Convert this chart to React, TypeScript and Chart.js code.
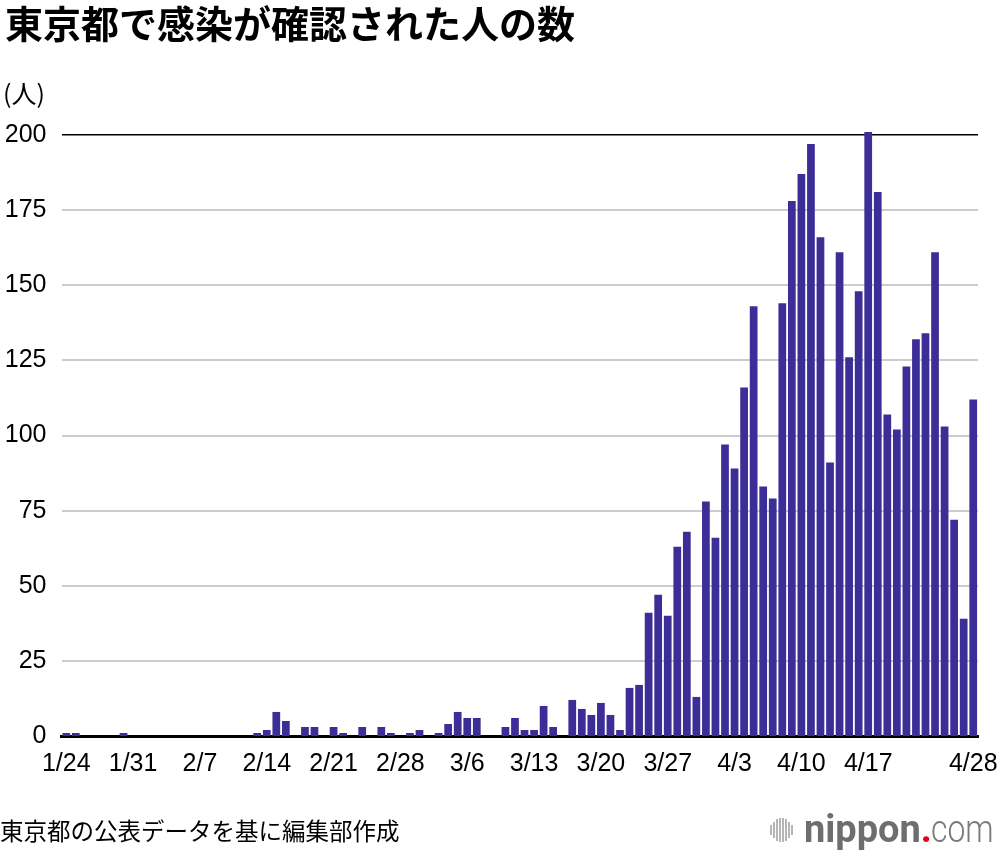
import React, { useEffect, useRef } from "react";
import { Chart, registerables } from "chart.js";

Chart.register(...registerables);

const dates: string[] = [
  "1/24", "1/25", "1/26", "1/27", "1/28", "1/29", "1/30", "1/31",
  "2/1", "2/2", "2/3", "2/4", "2/5", "2/6", "2/7", "2/8", "2/9", "2/10",
  "2/11", "2/12", "2/13", "2/14", "2/15", "2/16", "2/17", "2/18", "2/19", "2/20",
  "2/21", "2/22", "2/23", "2/24", "2/25", "2/26", "2/27", "2/28", "2/29",
  "3/1", "3/2", "3/3", "3/4", "3/5", "3/6", "3/7", "3/8", "3/9", "3/10",
  "3/11", "3/12", "3/13", "3/14", "3/15", "3/16", "3/17", "3/18", "3/19", "3/20",
  "3/21", "3/22", "3/23", "3/24", "3/25", "3/26", "3/27", "3/28", "3/29", "3/30", "3/31",
  "4/1", "4/2", "4/3", "4/4", "4/5", "4/6", "4/7", "4/8", "4/9", "4/10",
  "4/11", "4/12", "4/13", "4/14", "4/15", "4/16", "4/17", "4/18", "4/19", "4/20",
  "4/21", "4/22", "4/23", "4/24", "4/25", "4/26", "4/27", "4/28",
];

const casesJan: number[] = [1, 1, 0, 0, 0, 0, 1, 0];
const casesFeb: number[] = [
  0, 0, 0, 0, 0, 0, 0, 0, 0, 0, 0, 0, 1, 2, 8, 5, 0, 3, 3, 0, 3, 1, 0, 3, 0, 3, 1, 0, 1,
];
const casesMar: number[] = [
  2, 0, 1, 4, 8, 6, 6, 0, 0, 3, 6, 2, 2, 10, 3, 0, 12, 9, 7, 11, 7, 2, 16, 17, 41, 47, 40, 63, 68, 13, 78,
];
const casesApr: number[] = [
  66, 97, 89, 116, 143, 83, 79, 144, 178, 187, 197, 166, 91, 161, 126, 148, 201, 181, 107, 102,
  123, 132, 134, 161, 103, 72, 39, 112,
];
const cases: number[] = [...casesJan, ...casesFeb, ...casesMar, ...casesApr];

const xTickLabels: string[] = [
  "1/24", "1/31", "2/7", "2/14", "2/21", "2/28", "3/6", "3/13", "3/20", "3/27", "4/3", "4/10", "4/17", "4/28",
];

const yMin = 0;
const yMax = 200;
const yStep = 25;

const NUM_FONT = "'Liberation Sans', Arial, Helvetica, sans-serif";
const JP_FONT = "'Noto Sans CJK JP', 'Noto Sans', sans-serif";

function ChartCanvas() {
  const ref = useRef<HTMLCanvasElement | null>(null);
  useEffect(() => {
    if (!ref.current) return;
    const tickSet = new Set(xTickLabels);
    const chart = new Chart(ref.current, {
      type: "bar",
      data: {
        labels: dates,
        datasets: [
          {
            data: cases,
            backgroundColor: "#3c2e96",
            borderWidth: 0,
            barPercentage: 0.81,
            categoryPercentage: 1,
            clip: false,
          } as any,
        ],
      },
      options: {
        animation: false,
        responsive: false,
        maintainAspectRatio: false,
        devicePixelRatio: 1,
        layout: { padding: { top: 135, right: 22, left: 0, bottom: 0 } },
        plugins: { legend: { display: false }, tooltip: { enabled: false } },
        scales: {
          x: {
            grid: { display: false, drawTicks: false },
            border: { display: true, color: "#000", width: 3 },
            ticks: {
              autoSkip: false,
              maxRotation: 0,
              minRotation: 0,
              padding: 13,
              color: "#000",
              font: { family: NUM_FONT, size: 25 },
              callback: (_v: any, i: number) => (tickSet.has(dates[i]) ? dates[i] : ""),
            },
            afterFit: (s: any) => {
              s.height = 116;
              s.paddingLeft = 0;
              s.paddingRight = 0;
            },
          },
          y: {
            min: yMin,
            max: yMax,
            border: { display: false },
            grid: {
              drawTicks: false,
              color: (ctx: any) => (ctx.tick && (ctx.tick.value === 200 || ctx.tick.value === 0) ? "#000" : "#cccccc"),
              lineWidth: (ctx: any) => (ctx.tick && ctx.tick.value === 200 ? 1.5 : ctx.tick && ctx.tick.value === 0 ? 0 : 2),
            },
            ticks: {
              stepSize: yStep,
              padding: 15,
              color: "#000",
              font: { family: NUM_FONT, size: 25 },
            },
            afterFit: (s: any) => {
              s.width = 61.5;
              s.paddingTop = 0;
              s.paddingBottom = 0;
            },
          },
        },
      } as any,
    });
    return () => chart.destroy();
  }, []);
  return (
    <canvas
      ref={ref}
      width={1000}
      height={852}
      style={{ position: "absolute", left: 0, top: 0, width: 1000, height: 852 }}
    />
  );
}

const logoBars: number[] = [10, 16, 22, 24, 24, 22, 16, 10];

export default function App() {
  return (
    <div
      style={{
        position: "absolute",
        left: 0,
        top: 0,
        width: 1000,
        height: 852,
        background: "#fff",
        overflow: "hidden",
      }}
    >
      <ChartCanvas />
      <div
        style={{
          position: "absolute",
          left: 5,
          top: 3,
          fontFamily: JP_FONT,
          fontWeight: 700,
          fontSize: 38,
          lineHeight: 1,
          color: "#000",
          whiteSpace: "nowrap",
        }}
      >
        東京都で感染が確認された人の数
      </div>
      <div
        style={{
          position: "absolute",
          left: 3,
          top: 80,
          fontFamily: JP_FONT,
          fontSize: 25,
          lineHeight: 1,
          color: "#000",
          whiteSpace: "nowrap",
        }}
      >
        (人)
      </div>
      <div
        style={{
          position: "absolute",
          left: 0,
          top: 819,
          fontFamily: JP_FONT,
          fontSize: 23.5,
          lineHeight: 1,
          color: "#000",
          whiteSpace: "nowrap",
        }}
      >
        東京都の公表データを基に編集部作成
      </div>
      <div
        style={{
          position: "absolute",
          left: 770,
          top: 818,
          height: 24,
          display: "flex",
          alignItems: "center",
          gap: 1.5,
        }}
      >
        {logoBars.map((h, i) => (
          <div key={i} style={{ width: 1.5, height: h, background: "#b5b5b5" }} />
        ))}
      </div>
      <div
        style={{
          position: "absolute",
          left: 804,
          top: 810,
          fontFamily: "Roboto, 'Noto Sans', sans-serif",
          fontSize: 38,
          lineHeight: 1,
          whiteSpace: "nowrap",
          color: "#6e6e6e",
        }}
      >
        <span style={{ fontWeight: 700 }}>nippon</span>
        <span style={{ color: "#e60012", fontWeight: 700 }}>.</span>
        <span
          style={{
            display: "inline-block",
            fontWeight: 300,
            color: "#7a7a7a",
            transform: "scaleX(0.84)",
            transformOrigin: "left center",
            marginLeft: -1,
          }}
        >
          com
        </span>
      </div>
    </div>
  );
}
